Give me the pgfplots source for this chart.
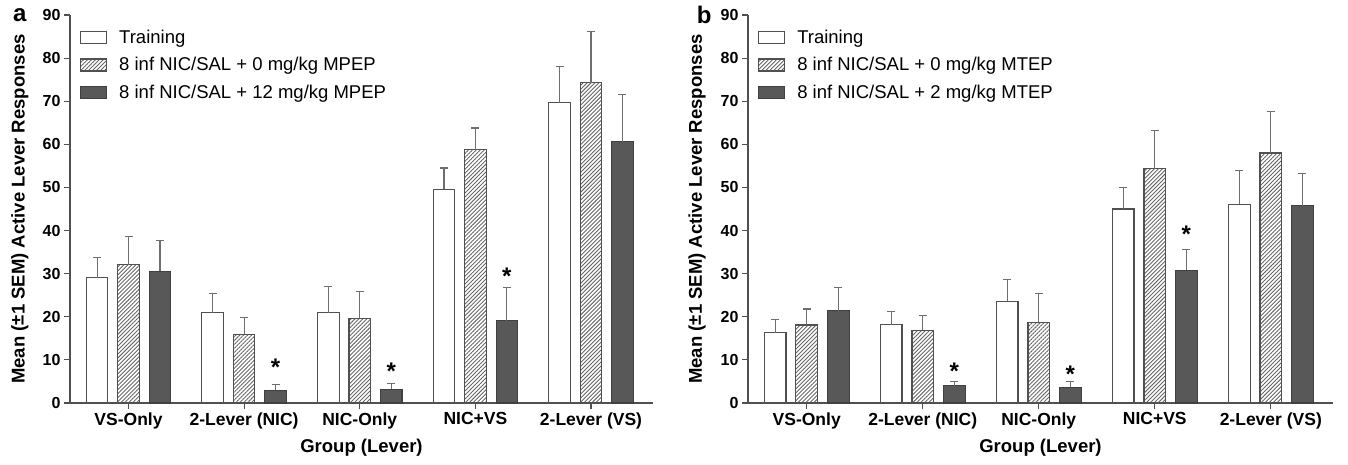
\documentclass[border=0pt]{standalone}
\usepackage{pgfplots}
\usepackage{pgfplotstable}
\pgfplotsset{compat=1.18}
\usepackage{fontspec}
\setmainfont{Liberation Sans}
\usetikzlibrary{patterns.meta}
\definecolor{axgray}{HTML}{505050}
\definecolor{barDark}{HTML}{585858}
\definecolor{errgray}{HTML}{6E6E6E}
\definecolor{hatchgray}{HTML}{666666}

\pgfplotstableread{
x tr trE hat hatE dk dkE
0 29.1 4.7 32.1 6.5 30.6 7.0
1 20.9 4.4 15.9 4.0 3.0 1.3
2 20.9 6.1 19.7 6.2 3.2 1.4
3 49.6 4.9 58.7 5.1 19.1 7.7
4 69.6 8.4 74.3 11.8 60.6 11.0
}\dataA
\pgfplotstableread{
x tr trE hat hatE dk dkE
0 16.3 3.0 18.1 3.7 21.4 5.3
1 18.2 3.1 16.9 3.4 4.0 0.9
2 23.6 5.1 18.7 6.6 3.6 1.4
3 45.0 4.9 54.3 8.9 30.8 4.9
4 46.1 7.9 58.0 9.6 45.8 7.5
}\dataB

\pgfplotsset{
  mylegend/.style={legend image code/.code={\draw[##1] (0pt,-6pt) rectangle (26pt,6pt);}},
  myerr/.style={error bars/.cd, y dir=plus, y explicit,
    error bar style={errgray, line width=1.1pt},
    error mark options={rotate=90, mark size=4pt, errgray, line width=1.1pt}},
  trbar/.style={ybar, bar width=0.186, bar shift=0, fill=white, draw=axgray, line width=1.1pt, mylegend, myerr},
  hatbar/.style={ybar, bar width=0.186, bar shift=0, draw=axgray, line width=1.1pt,
    pattern={Lines[angle=45, distance=2.8pt, line width=0.9pt]}, pattern color=hatchgray, mylegend, myerr},
  dkbar/.style={ybar, bar width=0.186, bar shift=0, fill=barDark, draw=black!75, line width=1.1pt, mylegend, myerr},
  starplot/.style={only marks, mark=text, text mark={\fontsize{24}{26}\selectfont\bfseries *}},
  myaxis/.style={
    scale only axis, height=388pt,
    xmin=-0.506, xmax=4.536, ymin=0, ymax=90,
    axis x line=bottom, axis y line=left,
    axis line style={-, draw=axgray, line width=1.4pt},
    ytick={0,10,...,90}, xtick={0,1,2,3,4},
    xticklabels={VS-Only,2-Lever (NIC),NIC-Only,NIC+VS,2-Lever (VS)},
    tick align=outside, major tick length=6pt,
    tick style={axgray, line width=1.2pt},
    /pgf/number format/assume math mode=true,
    yticklabel style={font=\fontsize{16}{18}\selectfont\bfseries},
    xticklabel style={font=\fontsize{17.5}{19}\selectfont\bfseries},
    xlabel={Group (Lever)},
    xlabel style={font=\fontsize{18.5}{20}\selectfont\bfseries, at={(axis description cs:0.5,-0.116)}, anchor=center},
    ylabel={Mean (\raisebox{0.05em}{±}1 SEM) Active Lever Responses},
    ylabel style={font=\fontsize{18.5}{20}\selectfont\bfseries, anchor=center},
    legend style={draw=none, fill=none, at={(rel axis cs:0.017,0.968)}, anchor=north west,
      font=\fontsize{18.5}{20}\selectfont, inner sep=0pt, row sep=9pt,
      /tikz/every odd column/.append style={column sep=10pt}},
    legend cell align=left,
    clip=false,
  }
}

\begin{document}
\begin{tikzpicture}
\useasboundingbox (0,0) rectangle (1348pt,464pt);
\begin{axis}[myaxis, width=583pt, at={(70pt,61pt)}, anchor=south west,
  ylabel style={at={(axis description cs:-0.086,0.5)}}]
\addplot[trbar] table[x expr=\thisrow{x}-0.272, y=tr, y error=trE] {\dataA};
\addlegendentry{Training}
\addplot[hatbar] table[x=x, y=hat, y error=hatE] {\dataA};
\addlegendentry{8 inf NIC/SAL + 0 mg/kg MPEP}
\addplot[dkbar] table[x expr=\thisrow{x}+0.272, y=dk, y error=dkE] {\dataA};
\addlegendentry{8 inf NIC/SAL + 12 mg/kg MPEP}
\addplot[starplot, forget plot] coordinates {(1.272,8.3) (2.272,7.3) (3.272,29.3)};
\node[font=\fontsize{24}{26}\selectfont\bfseries] at (axis description cs:-0.086,1.0) {a};
\end{axis}
\begin{axis}[myaxis, width=585pt, at={(748pt,61pt)}, anchor=south west,
  ylabel style={at={(axis description cs:-0.087,0.5)}}]
\addplot[trbar] table[x expr=\thisrow{x}-0.272, y=tr, y error=trE] {\dataB};
\addlegendentry{Training}
\addplot[hatbar] table[x=x, y=hat, y error=hatE] {\dataB};
\addlegendentry{8 inf NIC/SAL + 0 mg/kg MTEP}
\addplot[dkbar] table[x expr=\thisrow{x}+0.272, y=dk, y error=dkE] {\dataB};
\addlegendentry{8 inf NIC/SAL + 2 mg/kg MTEP}
\addplot[starplot, forget plot] coordinates {(1.272,7.3) (2.272,6.6) (3.272,39.1)};
\node[font=\fontsize{24}{26}\selectfont\bfseries] at (axis description cs:-0.075,1.0) {b};
\end{axis}
\end{tikzpicture}
\end{document}
